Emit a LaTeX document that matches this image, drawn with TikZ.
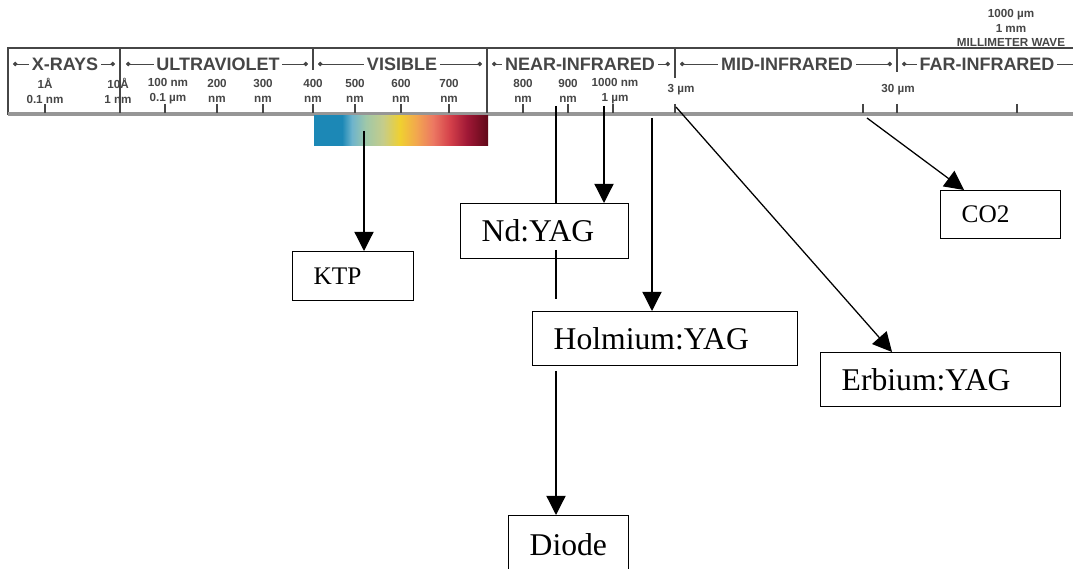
\documentclass[tikz,border=0pt]{standalone}
\usepackage{fontspec}
\setmainfont{Liberation Serif}
\setsansfont{Liberation Sans}
\usepackage{xcolor}
\usepackage{tikz}
\usetikzlibrary{arrows.meta,positioning}
\definecolor{corlinha}{RGB}{70,70,70}
\definecolor{corbarra}{RGB}{150,150,150}
\definecolor{esp1}{RGB}{28,136,182}
\definecolor{esp2}{RGB}{110,180,204}
\definecolor{esp3}{RGB}{160,200,168}
\definecolor{esp4}{RGB}{197,204,138}
\definecolor{esp5}{RGB}{240,208,48}
\definecolor{esp6}{RGB}{242,165,80}
\definecolor{esp7}{RGB}{236,120,98}
\definecolor{esp8}{RGB}{212,64,74}
\definecolor{esp9}{RGB}{160,24,54}
\definecolor{esp10}{RGB}{96,8,24}

\begin{document}
\begin{tikzpicture}[
  x=0.025cm, y=-0.025cm,
  laser/.style={rectangle, draw, line width=1pt, fill=white, anchor=north west,
                inner xsep=0.525cm, inner ysep=0pt, align=left,
                font=\fontsize{22.5}{26}\selectfont},
  aponta/.style={-{Triangle[length=0.48cm, width=0.48cm]}, line width=0.9pt},
  regua/.style={draw=corlinha, line width=0.8pt},
  faixa/.style={font=\sffamily\bfseries\fontsize{12.8}{14}\selectfont, text=corlinha,
                fill=white, inner xsep=2pt, inner ysep=0pt},
  rotulo/.style={font=\sffamily\bfseries\fontsize{8.3}{10.2}\selectfont, text=corlinha,
                 align=center, inner sep=0pt}
]
  \useasboundingbox (0,0) rectangle (1073,569);

  \draw[regua] (1073,48) -- (8,48) -- (8,115);
  \draw[draw=corbarra, line width=2.2pt] (8,114) -- (1073,114);
  \foreach \x in {120,487} \draw[regua] (\x,48) -- (\x,113);
  \foreach \x/\y in {313/70,675/78,897/72} \draw[regua] (\x,48) -- (\x,\y);
  \foreach \x in {45,165,217,263,313,355,401,449,523,568,613,675,863,897,1017}
    \draw[regua] (\x,104) -- (\x,113);
  \foreach \a/\b in {13/115,126/308,318/482,492/670,680/892}
    \draw[regua, line width=0.6pt, {Circle[length=3.2pt]}-{Circle[length=3.2pt]}] (\a,64) -- (\b,64);
  \draw[regua, line width=0.6pt, {Circle[length=3.2pt]}-] (902,64) -- (1073,64);

  \node[faixa] (xray) at (65,64) {X-RAYS};
  \node[faixa] (uv) at (218,64) {ULTRAVIOLET};
  \node[faixa] (vis) at (402,64) {VISIBLE};
  \node[faixa] (nir) at (580,64) {NEAR-INFRARED};
  \node[faixa] (mir) at (787,64) {MID-INFRARED};
  \node[faixa] (fir) at (987,64) {FAR-INFRARED};

  \node[rotulo] (l1) at (45,91) {1Å\\0.1 nm};
  \node[rotulo] (l2) at (118,91) {10Å\\1 nm};
  \node[rotulo] (l3) at (168,91) {100 nm\\0.1 µm};
  \node[rotulo] (l4) at (217,91) {200\\nm};
  \node[rotulo] (l5) at (263,91) {300\\nm};
  \node[rotulo] (l6) at (313,91) {400\\nm};
  \node[rotulo] (l7) at (355,91) {500\\nm};
  \node[rotulo] (l8) at (401,91) {600\\nm};
  \node[rotulo] (l9) at (449,91) {700\\nm};
  \node[rotulo] (l10) at (523,91) {800\\nm};
  \node[rotulo] (l11) at (568,91) {900\\nm};
  \node[rotulo] (l12) at (615,91) {1000 nm\\1 µm};
  \node[rotulo] (l13) at (681,90) {3 µm};
  \node[rotulo] (l14) at (898,90) {30 µm};
  \node[rotulo] (mmw) at (1011,28) {1000 µm\\1 mm\\MILLIMETER WAVE};

  \foreach \xa/\xb/\ca/\cb in {314/342/esp1/esp1,342/352/esp1/esp2,352/366/esp2/esp3,
      366/383/esp3/esp4,383/400/esp4/esp5,400/417/esp5/esp6,417/433/esp6/esp7,
      433/450/esp7/esp8,450/467/esp8/esp9,467/488/esp9/esp10}
    \shade[left color=\ca, right color=\cb] (\xa,116) rectangle (\xb,146);

  \node[laser, text width=1.975cm, minimum height=1.225cm, font=\fontsize{18}{21}\selectfont] (ktp) at (292,251) {KTP};
  \node[laser, text width=3.15cm, minimum height=1.375cm] (nd) at (460,203) {Nd:YAG};
  \node[laser, text width=5.575cm, minimum height=1.35cm] (ho) at (532,311) {Holmium:YAG};
  \node[laser, text width=1.95cm, minimum height=1.45cm] (di) at (508,515) {Diode};
  \node[laser, text width=4.95cm, minimum height=1.35cm] (er) at (820,352) {Erbium:YAG};
  \node[laser, text width=1.95cm, minimum height=1.2cm, font=\fontsize{18}{21}\selectfont] (co) at (940,190) {CO2};

  \coordinate (sKTP) at (364,131);
  \coordinate (sNd) at (604,106);
  \coordinate (sHo) at (652,118);
  \coordinate (sDi) at (556,106);
  \coordinate (dA) at (556,250);
  \coordinate (dB) at (556,299);
  \coordinate (dC) at (556,371);
  \coordinate (sEr) at (676,107);
  \coordinate (sCO) at (867,118);

  \draw[aponta] (sKTP) -- (sKTP |- ktp.north);
  \draw[aponta] (sNd) -- (sNd |- nd.north);
  \draw[aponta] (sHo) -- (sHo |- ho.north);
  \draw[line width=0.9pt] (sDi) -- (sDi |- nd.north);
  \draw[line width=0.9pt] (dA) -- (dB);
  \draw[aponta] (dC) -- (dC |- di.north);
  \draw[aponta] (sEr) -- ([xshift=1.8cm]er.north west);
  \draw[aponta] (sCO) -- ([xshift=0.6cm]co.north west);
\end{tikzpicture}
\end{document}
